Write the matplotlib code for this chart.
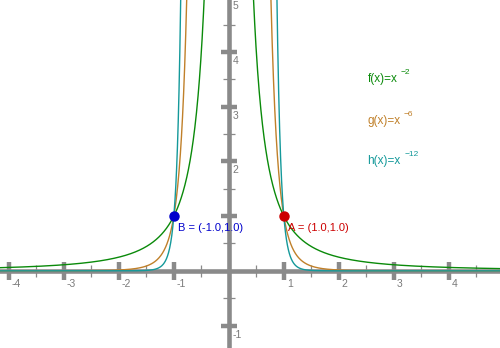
import matplotlib
matplotlib.use("Agg")
import matplotlib.pyplot as plt
import matplotlib.transforms as mtransforms
import numpy as np

plt.rcParams['font.family'] = ['Liberation Sans', 'DejaVu Sans']

# functions: f(x)=x^-2, g(x)=x^-6, h(x)=x^-12
exponents = [-2, -6, -12]
names = ["f", "g", "h"]
curve_colors = ["#0a8a0a", "#c0802a", "#14999a"]

# points on the curves
point_names = ["A", "B"]
point_x = [1.0, -1.0]
point_y = [1.0, 1.0]
point_colors = ["#cc0000", "#0000cc"]

# tick values
x_ticks = [-4, -3, -2, -1, 1, 2, 3, 4]
y_ticks = [-1, 2, 3, 4, 5]
axis_gray = "#8a8a8a"

fig = plt.figure(figsize=(5.0, 3.48), dpi=100)
ax = fig.add_axes([0, 0, 1, 1])
ax.set_xlim(-4.16, 4.93)
ax.set_ylim(-1.41, 4.95)
ax.set_axis_off()

# axes
ax.axhline(0, color=axis_gray, lw=3.3, zorder=1)
ax.axvline(0, color=axis_gray, lw=3.3, zorder=1)

# ticks drawn as markers
major = [-4, -3, -2, -1, 1, 2, 3, 4]
minor_x = [-3.5, -2.5, -1.5, -0.5, 0.5, 1.5, 2.5, 3.5, 4.5]
ax.plot(major, [0] * len(major), ls="none", marker="|", ms=13, mew=3.2,
        color=axis_gray, zorder=1)
ax.plot(minor_x, [0] * len(minor_x), ls="none", marker="|", ms=9, mew=0.9,
        color=axis_gray, zorder=1)
major_y = [-1, 1, 2, 3, 4]
minor_y = [-0.5, 0.5, 1.5, 2.5, 3.5, 4.5]
ax.plot([0] * len(major_y), major_y, ls="none", marker="_", ms=12, mew=3.2,
        color=axis_gray, zorder=1)
ax.plot([0] * len(minor_y), minor_y, ls="none", marker="_", ms=8, mew=0.9,
        color=axis_gray, zorder=1)

# tick labels
tx = mtransforms.offset_copy(ax.transData, fig=fig, x=3, y=-8, units='dots')
for t in x_ticks:
    ax.text(t, 0, str(t), transform=tx, ha="left", va="top", fontsize=7.5,
            color="#7a7a7a")
ty = mtransforms.offset_copy(ax.transData, fig=fig, x=4, y=-4, units='dots')
for t in y_ticks:
    ax.text(0, t, str(t), transform=ty, ha="left", va="top", fontsize=7.5,
            color="#7a7a7a")

# curves
xs = np.concatenate([np.linspace(-4.2, -0.3, 800), np.linspace(0.3, 5.0, 800)])
for e, c in zip(exponents, curve_colors):
    for part in (xs[xs < 0], xs[xs > 0]):
        ax.plot(part, part ** float(e), color=c, lw=1.0, zorder=2)

# legend-like labels with raised exponent
label_y = [3.5, 2.74, 2.0]
for n, e, c, ly in zip(names, exponents, curve_colors, label_y):
    main = ax.text(2.52, ly, n + "(x)=x", color=c, fontsize=8.5,
                   ha="left", va="center")
    ax.annotate(str(e).replace("-", "\u2212"), xy=(1, 0.75), xycoords=main,
                xytext=(2.5, 0), textcoords="offset points", color=c,
                fontsize=6, ha="left", va="bottom")

# points
for n, px, py, c in zip(point_names, point_x, point_y, point_colors):
    ax.plot(px, py, "o", ms=6.5, color=c, zorder=4)
    tp = mtransforms.offset_copy(ax.transData, fig=fig, x=4, y=-12, units='dots')
    ax.text(px, py, "%s = (%.1f,%.1f)" % (n, px, py), transform=tp, color=c,
            fontsize=8, ha="left", va="center", zorder=5)

fig.savefig("out.png", dpi=100)
